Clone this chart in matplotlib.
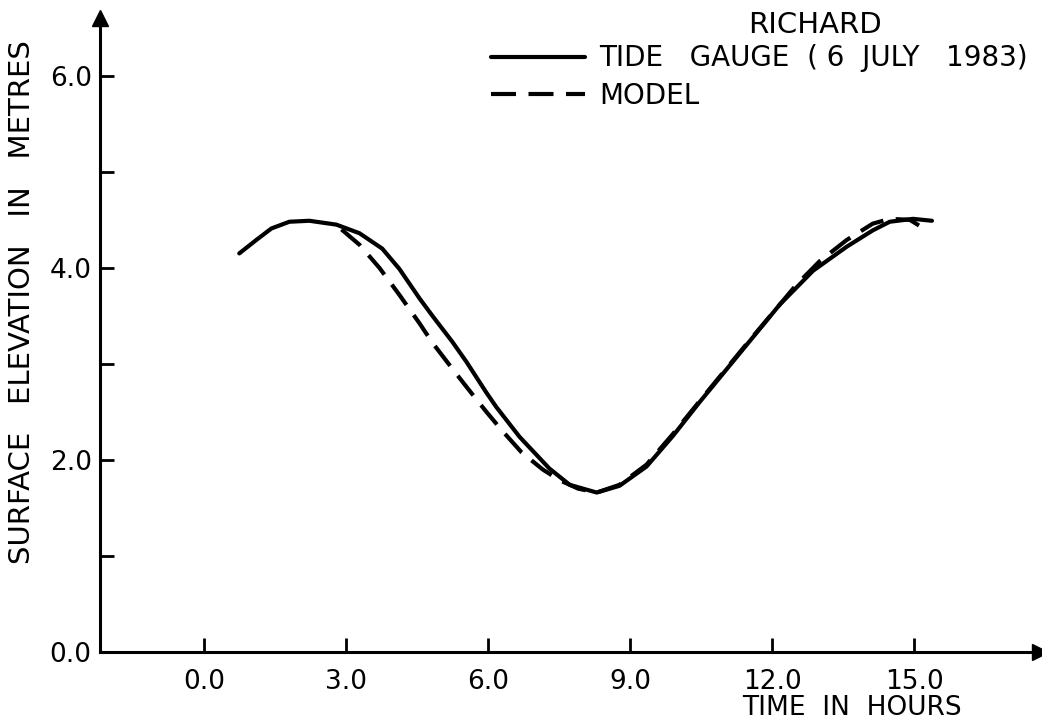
import matplotlib
matplotlib.use("Agg")
import matplotlib.pyplot as plt

# tide gauge record (solid)
gauge_t = [0.74, 1.1, 1.42, 1.8, 2.22, 2.79, 3.28, 3.76, 4.12, 4.55, 4.82, 5.24,
           5.54, 5.96, 6.17, 6.66, 7.29, 7.72, 8.29, 8.77, 9.34, 9.9, 10.46,
           11.46, 12.16, 12.86, 13.57, 14.12, 14.48, 14.97, 15.37]
gauge_h = [4.15, 4.29, 4.41, 4.48, 4.49, 4.45, 4.36, 4.2, 3.99, 3.68, 3.5, 3.23,
           3.02, 2.7, 2.55, 2.24, 1.91, 1.74, 1.66, 1.73, 1.93, 2.25, 2.6,
           3.2, 3.62, 3.97, 4.22, 4.39, 4.48, 4.51, 4.49]

# model output (dashed)
model_t = [2.9, 3.28, 3.7, 4.12, 4.55, 4.82, 5.24, 5.54, 5.96, 6.3, 6.7, 7.15,
           7.5, 7.9, 8.29, 8.77, 9.34, 9.9, 10.46, 11.46, 12.16, 12.5, 13.0,
           13.57, 14.12, 14.48, 14.9, 15.2]
model_h = [4.40, 4.24, 4.0, 3.72, 3.42, 3.22, 2.95, 2.76, 2.5, 2.3, 2.08, 1.9,
           1.79, 1.7, 1.66, 1.74, 1.95, 2.27, 2.61, 3.21, 3.62, 3.82, 4.07,
           4.29, 4.46, 4.51, 4.5, 4.41]

xticks = [0, 3, 6, 9, 12, 15]
xlabels = ["0.0", "3.0", "6.0", "9.0", "12.0", "15.0"]
yticks = [0, 1, 2, 3, 4, 5, 6]
ylabels = ["0.0", "", "2.0", "", "4.0", "", "6.0"]

plt.rcParams["font.family"] = ["DejaVu Sans"]

fig = plt.figure(figsize=(10.42, 7.26), dpi=100)
ax = fig.add_axes([0.096, 0.102, 0.902, 0.873])

ax.plot(gauge_t, gauge_h, color="black", lw=3.0, solid_capstyle="round",
        label="TIDE   GAUGE  ( 6  JULY   1983)")
ax.plot(model_t, model_h, color="black", lw=3.0, dashes=(6, 3),
        label="MODEL")

ax.set_xlim(-2.2, 17.65)
ax.set_ylim(0, 6.6)

for s in ["top", "right"]:
    ax.spines[s].set_visible(False)
for s in ["left", "bottom"]:
    ax.spines[s].set_linewidth(2.2)

# arrow heads on the axes
ax.plot(1, 0, ">k", ms=12, transform=ax.get_yaxis_transform(), clip_on=False)
ax.plot(-2.2, 1, "^k", ms=12, transform=ax.get_xaxis_transform(), clip_on=False)

ax.set_xticks(xticks)
ax.set_xticklabels(xlabels)
ax.set_yticks(yticks)
ax.set_yticklabels(ylabels)
ax.tick_params(axis="both", direction="in", length=10, width=2, labelsize=19)
ax.tick_params(axis="x", pad=12)
ax.tick_params(axis="y", pad=6)

ax.set_ylabel("SURFACE   ELEVATION   IN   METRES", fontsize=21)
ax.yaxis.set_label_coords(-0.068, 0.552)
fig.text(0.818, 0.025, "TIME  IN  HOURS", fontsize=19, ha="center", va="center")

fig.text(0.782, 0.966, "RICHARD", fontsize=21, ha="center", va="center")

ax.legend(loc="upper left", bbox_to_anchor=(0.389, 0.998), frameon=False,
          fontsize=20, handlelength=3.4, handletextpad=0.5, labelspacing=0.35)

fig.savefig("out.png", dpi=100, facecolor="white")
